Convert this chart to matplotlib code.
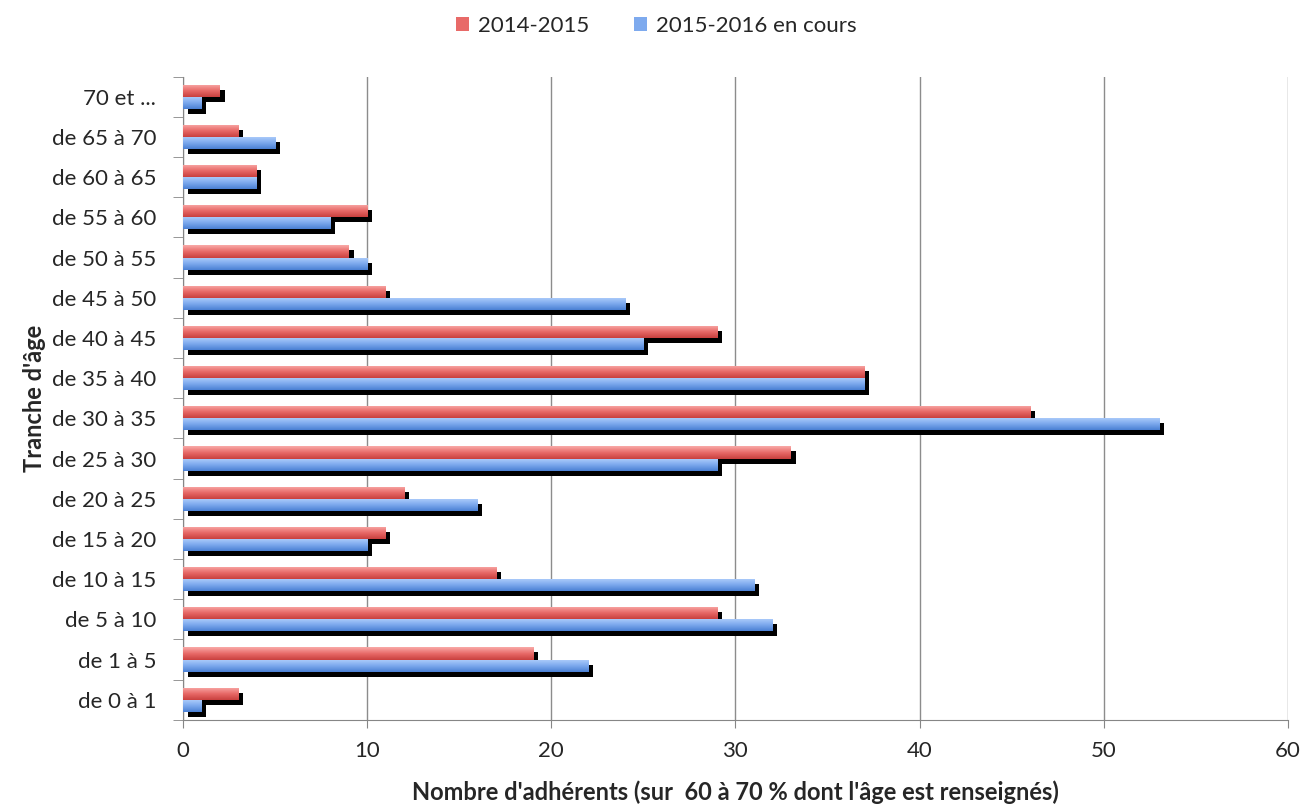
import matplotlib
matplotlib.use('Agg')
import matplotlib.pyplot as plt
import matplotlib.patheffects as pe
from matplotlib.colors import LinearSegmentedColormap
from matplotlib.patches import Patch
import numpy as np

plt.rcParams['font.family'] = ['Lato', 'DejaVu Sans']

# age groups, bottom to top
categories = ['de 0 à 1', 'de 1 à 5', 'de 5 à 10', 'de 10 à 15', 'de 15 à 20',
              'de 20 à 25', 'de 25 à 30', 'de 30 à 35', 'de 35 à 40', 'de 40 à 45',
              'de 45 à 50', 'de 50 à 55', 'de 55 à 60', 'de 60 à 65', 'de 65 à 70',
              '70 et ...']
s2014 = [3, 19, 29, 17, 11, 12, 33, 46, 37, 29, 11, 9, 10, 4, 3, 2]
s2016 = [1, 22, 32, 31, 10, 16, 29, 53, 37, 25, 24, 10, 8, 4, 5, 1]
series_names = ['2014-2015', '2015-2016 en cours']

red_map = LinearSegmentedColormap.from_list('r', ['#f9aaa8', '#e86a68', '#c9403e'])
blue_map = LinearSegmentedColormap.from_list('b', ['#b0cffb', '#7eaaee', '#4a80d4'])
txt = '#262626'

fig = plt.figure(figsize=(13.05, 8.07), dpi=100)
ax = fig.add_axes([0.140, 0.108, 0.847, 0.797])

y = np.arange(len(categories))
h = 0.3
shadow = [pe.SimplePatchShadow(offset=(3.6, -3.6), shadow_rgbFace='black', alpha=1.0), pe.Normal()]

grad = np.linspace(0, 1, 64).reshape(-1, 1)
handles = []
for vals, off, cmap, name in [(s2014, 0.15, red_map, series_names[0]),
                              (s2016, -0.15, blue_map, series_names[1])]:
    bars = ax.barh(y + off, vals, height=h, color=cmap(0.5), zorder=2)
    for b in bars:
        b.set_path_effects(shadow)
    for b in bars:
        x0, y0 = b.get_x(), b.get_y()
        im = ax.imshow(grad, cmap=cmap, aspect='auto', zorder=3,
                       extent=(x0, x0 + b.get_width(), y0, y0 + b.get_height()),
                       origin='upper', interpolation='bilinear')
        im.set_clip_path(b)
    handles.append(Patch(facecolor=cmap(0.5), label=name))

ax.set_xlim(0, 60)
ax.set_ylim(-0.5, len(categories) - 0.5)
ax.set_xticks(np.arange(0, 61, 10))
ax.set_yticks(y)
ax.set_yticklabels(categories)
ax.set_yticks(np.arange(-0.5, len(categories), 1), minor=True)
ax.tick_params(axis='y', which='major', length=0, pad=19, labelsize=16, labelcolor=txt)
ax.tick_params(axis='y', which='minor', length=7, color='#868686', direction='out')
ax.tick_params(axis='x', length=6, color='#868686', labelsize=16, labelcolor=txt, pad=9)
ax.grid(axis='x', color='#8c8c8c', linewidth=1, zorder=0)
ax.set_axisbelow(True)
for s in ['top', 'right']:
    ax.spines[s].set_visible(False)
for s in ['left', 'bottom']:
    ax.spines[s].set_color('#868686')

ax.set_xlabel("Nombre d'adhérents (sur  60 à 70 % dont l'âge est renseignés)",
              fontsize=17, fontweight='bold', color=txt, labelpad=14)
ax.set_ylabel("Tranche d'âge", fontsize=17, fontweight='bold', color=txt, labelpad=4)

fig.legend(handles=handles, loc='upper center', bbox_to_anchor=(0.503, 1.005), ncol=2,
           frameon=False, fontsize=16, handlelength=0.6, handleheight=0.6,
           handletextpad=0.4, columnspacing=2.0, labelcolor=txt)

fig.savefig('out.png', dpi=100)
